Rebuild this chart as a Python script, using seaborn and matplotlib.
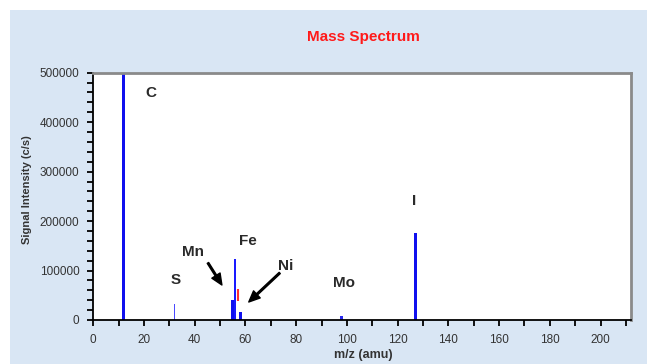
import matplotlib
matplotlib.use("Agg")
import matplotlib.pyplot as plt
import seaborn as sns
import pandas as pd
from matplotlib.patches import Rectangle
from matplotlib.ticker import MultipleLocator

# peaks
mz = [12, 32, 55, 56, 58, 98, 127]
intensity = [505000, 32000, 40000, 123000, 17000, 9000, 175000]
bar_w = [1.25, 0.7, 1.2, 0.9, 1.0, 1.1, 1.2]
bar_col = ["#1010ee", "#4a4aff", "#1010ee", "#1a1aff", "#1010ee", "#2a2aee", "#1010ee"]

# small red mark next to Fe
red_mz = [57]
red_lo = [38000]
red_hi = [62000]

elements = ["C", "S", "Mn", "Fe", "Ni", "Mo", "I"]
label_x = [22.7, 32.6, 39.2, 61, 76, 99, 126.6]
label_y = [459000, 81000, 137600, 160000, 109000, 74000, 241000]

df = pd.DataFrame({"mz": mz, "intensity": intensity})

sns.set_style("white")
plt.rcParams["font.family"] = ["Liberation Sans", "DejaVu Sans"]

fig = plt.figure(figsize=(6.47, 3.64), dpi=100)
fig.patch.set_facecolor("white")
fig.patches.append(Rectangle((10 / 647, 0), 1, 1 - 10 / 364, transform=fig.transFigure,
                             facecolor="#d9e6f4", edgecolor="none", zorder=-10))

ax = fig.add_axes([93.3 / 647, 1 - 320 / 364, (631 - 93.3) / 647, (320 - 72.7) / 364])
ax.set_zorder(5)
ax.set_facecolor("white")

for i in range(len(df)):
    sns.barplot(data=df.iloc[[i]], x="mz", y="intensity", native_scale=True,
                width=bar_w[i], color=bar_col[i], saturation=1, linewidth=0,
                errorbar=None, ax=ax)

ax.vlines(red_mz, red_lo, red_hi, color="#ff3030", lw=1.5)

ax.set_xlim(0, 212)
ax.set_ylim(0, 500000)
ax.xaxis.set_major_locator(MultipleLocator(20))
ax.xaxis.set_minor_locator(MultipleLocator(10))
ax.yaxis.set_major_locator(MultipleLocator(100000))
ax.yaxis.set_minor_locator(MultipleLocator(20000))
ax.tick_params(which="both", direction="out", color="black", width=1.3,
               labelsize=8.5, labelcolor="#333333", bottom=True, left=True)
ax.tick_params(which="major", length=4, pad=6)
ax.tick_params(which="minor", length=4)
ax.set_xlabel("")
ax.set_ylabel("")

for s in ["top", "right"]:
    ax.spines[s].set_color("#8a8a8a")
    ax.spines[s].set_linewidth(2)
for s in ["left", "bottom"]:
    ax.spines[s].set_color("black")
    ax.spines[s].set_linewidth(1.3)

for name, x, y in zip(elements, label_x, label_y):
    ax.text(x, y, name, ha="center", va="center", fontsize=11,
            fontweight="bold", color="#2a2a2a")

arrow = dict(facecolor="black", edgecolor="black", width=1.2, headwidth=7, headlength=8, shrink=0)
ax.annotate("", xy=(50.7, 70800), xytext=(45.2, 115400), arrowprops=arrow)
ax.annotate("", xy=(61.3, 36400), xytext=(73.5, 95100), arrowprops=arrow)

fig.text(363 / 647, 1 - 37 / 364, "Mass Spectrum", ha="center", va="center",
         fontsize=11, fontweight="bold", color="#ff1a1a")
fig.text(363 / 647, 1 - 355 / 364, "m/z (amu)", ha="center", va="center",
         fontsize=9, fontweight="bold", color="#333333")
fig.text(27 / 647, 1 - 190 / 364, "Signal Intensity (c/s)", ha="center", va="center",
         rotation=90, fontsize=8, fontweight="bold", color="#333333")

fig.savefig("out.png", dpi=100)
